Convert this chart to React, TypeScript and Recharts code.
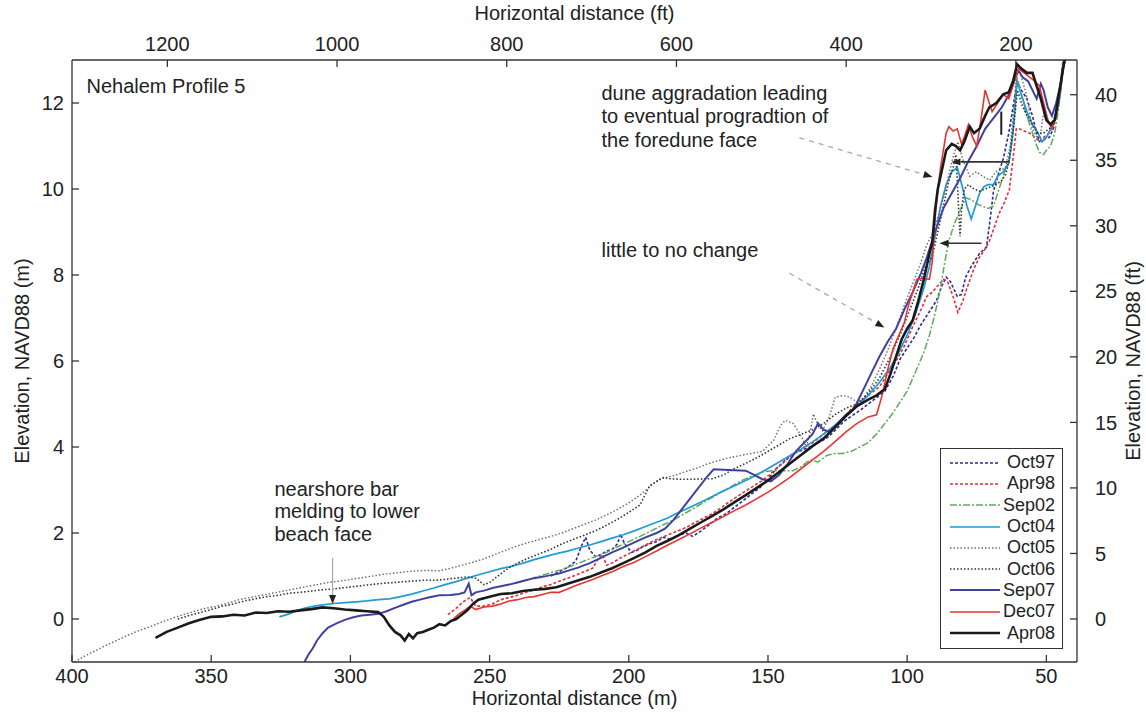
import React from "react";
import { LineChart, Line, XAxis, YAxis, Legend, ReferenceLine, ReferenceDot } from "recharts";

// profile surveys: [distance (m), elevation (m NAVD88)]
const oct97: [number, number][] = [
  [228, 1.0], [225, 1.1], [222, 1.2], [219, 1.35], [217, 1.7], [215.5, 1.9], [214, 1.6], [212, 1.45], [210, 1.5],
  [208, 1.58], [206, 1.62], [204, 1.75], [203, 1.98], [201.5, 1.75], [199, 1.55], [197, 1.6], [195, 1.68],
  [192.5, 1.75], [190, 1.8], [187.5, 1.9], [185, 1.85], [182, 1.95], [179.5, 2.0], [177, 1.92], [174, 2.05],
  [171, 2.2], [168, 2.35], [165, 2.45], [162, 2.6], [159, 2.75], [156, 2.9], [153, 3.05], [150, 3.25], [147, 3.5],
  [144, 3.68], [141, 3.85], [138, 3.92], [135, 4.0], [132, 4.1], [129, 4.2], [126, 4.38], [123, 4.58], [120, 4.72],
  [117, 4.85], [114, 5.0], [111, 5.15], [108, 5.3], [105, 5.65], [102.5, 6.05], [100, 6.3], [97.5, 6.55], [95, 6.85],
  [92, 7.15], [89.5, 7.4], [87.5, 7.75], [86, 7.95], [84.5, 7.85], [82, 7.5], [80.5, 7.55], [79, 7.95], [77, 8.2],
  [74, 8.5], [71.5, 8.65], [70, 9.4], [69, 9.95], [67, 10.4], [65.5, 10.7], [63.5, 11.3], [62, 11.9], [60.5, 12.5],
  [59, 12.3], [57, 12.1], [55, 11.7], [53.5, 11.3], [52.5, 11.1], [51, 11.15], [49, 11.2], [47.5, 11.4], [46, 11.9],
  [45, 12.4], [44, 13.0],
];
const apr98: [number, number][] = [
  [265, 0.1], [262, 0.25], [259.5, 0.4], [257, 0.5], [255, 0.3], [252, 0.3], [249, 0.35], [246, 0.45], [243, 0.5],
  [240, 0.55], [237, 0.62], [234, 0.68], [231, 0.75], [228, 0.8], [225, 0.88], [222, 0.95], [219, 1.02], [216, 1.1],
  [213, 1.18], [211, 1.4], [209.5, 1.5], [208, 1.25], [206, 1.3], [203, 1.42], [200, 1.52], [197, 1.62], [194, 1.72],
  [191, 1.82], [188, 1.9], [185, 1.98], [182, 2.06], [179, 2.14], [176, 2.25], [173, 2.35], [170, 2.45], [167, 2.58],
  [164, 2.72], [161, 2.85], [158, 2.98], [155, 3.1], [152, 3.22], [149, 3.38], [146, 3.55], [143, 3.72], [140, 3.88],
  [137, 4.0], [134, 4.1], [131, 4.25], [128, 4.4], [125, 4.55], [122, 4.75], [119, 4.95], [116, 5.1], [113, 5.25],
  [110, 5.4], [107, 5.7], [104, 6.0], [101, 6.35], [98, 6.8], [95, 7.2], [93, 7.5], [91, 7.6], [89, 7.75], [87, 7.9],
  [85.5, 7.85], [83.5, 7.5], [81.8, 7.13], [80, 7.4], [78.5, 7.7], [77.5, 7.88], [76, 8.15], [74, 8.42], [72, 8.6],
  [70.4, 8.8], [68.5, 9.15], [66.9, 9.44], [65, 9.7], [63.3, 9.98], [62, 10.7], [60.8, 11.4], [59.7, 11.4],
  [58, 11.35], [56, 11.3], [54, 11.2], [52.5, 11.1], [51, 11.2], [49, 11.3], [47.5, 11.5], [46, 11.9], [45, 12.4],
  [44, 12.9], [43.6, 13.0],
];
const sep02: [number, number][] = [
  [240, 0.85], [236, 0.92], [232, 1.0], [228, 1.08], [224, 1.15], [220, 1.25], [216, 1.35], [212, 1.45], [208, 1.55],
  [204, 1.68], [200, 1.8], [196, 1.92], [192, 2.05], [188, 2.18], [184, 2.3], [180, 2.45], [176, 2.6], [172, 2.75],
  [168, 2.9], [164, 3.05], [160, 3.2], [156, 3.32], [152, 3.42], [148, 3.45], [144, 3.45], [141, 3.45], [138, 3.55],
  [135, 3.7], [132, 3.65], [129, 3.8], [126, 3.85], [123, 3.85], [120, 3.9], [117, 4.0], [114, 4.1], [111, 4.3],
  [108, 4.55], [105, 4.8], [102, 5.1], [100, 5.3], [98, 5.6], [96, 5.9], [94, 6.2], [92, 6.6], [90, 7.1], [88, 7.7],
  [86.5, 8.3], [85, 8.8], [83, 9.2], [81, 9.5], [79, 9.8], [77, 9.75], [75, 9.65], [73, 9.6], [71, 9.55], [69, 9.6],
  [67, 10.0], [65, 10.4], [63.5, 10.6], [62, 11.4], [60.5, 12.6], [59, 12.2], [57.5, 11.8], [56, 11.5], [54, 11.1],
  [52.5, 10.85], [51, 10.8], [50, 10.9], [48.5, 11.0], [47, 11.3], [46, 11.7], [45, 12.2], [44, 12.8], [43.5, 13.0],
];
const oct04: [number, number][] = [
  [325.5, 0.05], [322, 0.12], [319, 0.2], [316, 0.26], [313, 0.3], [310, 0.33], [306, 0.36], [302, 0.38], [298, 0.4],
  [294, 0.42], [290, 0.45], [286, 0.47], [282, 0.52], [278, 0.58], [274, 0.65], [270, 0.72], [266, 0.8], [262, 0.87],
  [258, 0.95], [254, 1.03], [250, 1.1], [246, 1.17], [242, 1.23], [238, 1.3], [234, 1.38], [230, 1.45], [226, 1.52],
  [222, 1.58], [218, 1.65], [214, 1.72], [210, 1.8], [206, 1.88], [202, 1.96], [198, 2.05], [194, 2.15], [190, 2.25],
  [186, 2.35], [182, 2.48], [178, 2.6], [174, 2.72], [170, 2.85], [166, 2.98], [162, 3.1], [158, 3.22], [154, 3.35],
  [150, 3.5], [146, 3.65], [142, 3.8], [138, 3.95], [134, 4.12], [130, 4.3], [126, 4.5], [122, 4.72], [118, 4.95],
  [114, 5.2], [110, 5.5], [106, 5.85], [103, 6.2], [100, 6.6], [97, 7.1], [94, 7.7], [92, 8.2], [90, 8.9], [88, 9.6],
  [86, 10.1], [84, 10.4], [82, 10.5], [80, 10.0], [78.5, 9.6], [77, 9.3], [75.5, 9.6], [74, 9.9], [72.5, 10.05],
  [71, 10.1], [69, 10.1], [67.5, 10.3], [65.5, 10.4], [63.5, 10.6], [62, 11.3], [60.5, 12.5], [59, 12.2], [57, 11.8],
  [55, 11.5], [53, 11.3], [51.5, 11.1], [50, 11.2], [48.5, 11.4], [47, 11.6], [45.5, 12.0], [44.5, 12.5], [43.8, 13.0],
];
const oct05: [number, number][] = [
  [399, -1.0], [396, -0.88], [392, -0.75], [388, -0.62], [384, -0.5], [380, -0.38], [376, -0.27], [372, -0.18],
  [368, -0.08], [364, 0.02], [360, 0.1], [356, 0.18], [352, 0.25], [348, 0.3], [344, 0.37], [340, 0.45], [336, 0.5],
  [332, 0.55], [328, 0.6], [324, 0.65], [320, 0.7], [316, 0.75], [312, 0.8], [308, 0.85], [304, 0.88], [300, 0.92],
  [296, 0.96], [292, 1.0], [288, 1.04], [284, 1.07], [280, 1.1], [276, 1.12], [272, 1.13], [268, 1.12], [264, 1.18],
  [260, 1.25], [256, 1.32], [252, 1.4], [248, 1.5], [244, 1.6], [240, 1.7], [236, 1.78], [232, 1.85], [228, 1.92],
  [224, 2.0], [220, 2.1], [216, 2.2], [212, 2.3], [208, 2.42], [204, 2.55], [200, 2.7], [196, 2.88], [192, 3.1],
  [189, 3.25], [186, 3.3], [183, 3.35], [180, 3.42], [176, 3.5], [172, 3.6], [168, 3.68], [164, 3.75], [160, 3.8],
  [156, 3.85], [152, 3.9], [148, 4.15], [145.5, 4.5], [143.8, 4.62], [141, 4.55], [138, 4.25], [136.2, 4.0],
  [135, 4.3], [133.7, 4.77], [132, 4.5], [130.4, 4.38], [128, 4.7], [125.8, 5.16], [123, 5.2], [120.8, 5.16],
  [118, 5.05], [116, 5.1], [113, 5.4], [110, 5.8], [107, 6.25], [104, 6.75], [101, 7.3], [98, 7.8], [95, 8.3],
  [93, 8.7], [91, 8.95], [89, 9.35], [87.3, 9.74], [85.5, 10.2], [83.7, 10.7], [81.8, 11.1], [80.1, 10.7],
  [77.6, 10.3], [75.1, 10.4], [73, 10.3], [70.4, 10.2], [68.2, 10.4], [66, 10.45], [64.7, 10.5], [63, 11.0],
  [61.5, 12.0], [60.4, 12.9], [58.5, 12.5], [57.2, 12.2], [55, 11.4], [52.5, 11.1], [50.7, 11.9], [48.9, 11.5],
  [47.5, 11.6], [46, 11.9], [45, 12.4], [44, 12.9], [43.6, 13.0],
];
const oct06: [number, number][] = [
  [362, 0.0], [358, 0.08], [354, 0.15], [350, 0.22], [346, 0.3], [342, 0.35], [338, 0.42], [334, 0.47], [330, 0.52],
  [326, 0.55], [322, 0.6], [318, 0.62], [314, 0.65], [310, 0.68], [306, 0.7], [302, 0.73], [298, 0.76], [294, 0.79],
  [290, 0.82], [286, 0.84], [282, 0.86], [278, 0.88], [274, 0.9], [270, 0.9], [266, 0.92], [262, 0.95], [258, 0.98],
  [255, 0.95], [252, 0.8], [250, 0.85], [247, 1.0], [244, 1.15], [240, 1.3], [236, 1.42], [232, 1.52], [228, 1.62],
  [224, 1.75], [220, 1.85], [216, 1.95], [212, 2.05], [208, 2.18], [204, 2.32], [200, 2.48], [196, 2.65],
  [192.5, 3.1], [190, 3.2], [187.5, 3.29], [185, 3.26], [181, 3.25], [177, 3.25], [173, 3.26], [170, 3.26],
  [166, 3.35], [162, 3.5], [158, 3.62], [154, 3.75], [150, 3.9], [146, 4.05], [142, 4.2], [138, 4.3], [134, 4.4],
  [130, 4.55], [126, 4.75], [122, 4.9], [118, 5.0], [114, 5.25], [110, 5.6], [106, 6.1], [102, 6.7], [99, 7.2],
  [96, 7.7], [93.5, 8.2], [91, 8.42], [89, 9.0], [87, 9.6], [85, 10.2], [83.5, 10.5], [82.5, 10.8], [82, 10.2],
  [81.5, 9.5], [81, 8.9], [80.5, 9.5], [79.5, 10.0], [78, 10.1], [76, 10.0], [74, 9.95], [72, 10.0], [70, 10.05],
  [68, 10.1], [66, 10.2], [64.5, 10.35], [63, 10.8], [61.5, 11.6], [60.4, 12.3], [59, 12.0], [57, 11.7], [55, 11.5],
  [53, 11.3], [51, 11.3], [49, 11.4], [47.5, 11.5], [46, 11.8], [45, 12.3], [44, 12.8], [43.5, 13.0],
];
const sep07: [number, number][] = [
  [316.5, -1.0], [315, -0.82], [313.5, -0.68], [312, -0.5], [310, -0.33], [308, -0.2], [305, -0.1], [302, -0.02],
  [299, 0.04], [296, 0.08], [293, 0.1], [290, 0.12], [287, 0.18], [284, 0.26], [281, 0.33], [278, 0.4], [275, 0.45],
  [272, 0.5], [268, 0.55], [264, 0.56], [261, 0.58], [259, 0.62], [257.5, 0.82], [256.5, 0.55], [255, 0.62],
  [252, 0.66], [249, 0.72], [246, 0.76], [243, 0.8], [240, 0.85], [237, 0.9], [234, 0.95], [231, 0.98], [228, 1.02],
  [225, 1.06], [222, 1.12], [218, 1.2], [214, 1.3], [210, 1.42], [206, 1.55], [202, 1.66], [198, 1.78], [194, 1.9],
  [190, 2.0], [187, 2.1], [184, 2.3], [181, 2.55], [178, 2.8], [175, 3.05], [172, 3.3], [169.5, 3.48], [166, 3.47],
  [162, 3.46], [158, 3.45], [155, 3.35], [152, 3.25], [149, 3.2], [146, 3.35], [143, 3.6], [140, 3.9], [137, 4.1],
  [134, 4.3], [132, 4.55], [130, 4.4], [128, 4.35], [125, 4.55], [122, 4.75], [119, 4.9], [116, 5.3], [113, 5.7],
  [110, 6.1], [107, 6.45], [104, 6.75], [101, 7.2], [98, 7.6], [95, 8.05], [93, 8.4], [90, 9.0], [87, 9.55],
  [84, 9.9], [81, 10.25], [78, 10.65], [75, 11.0], [72, 11.4], [69, 11.65], [66, 11.9], [63, 12.25], [61, 12.6],
  [60, 12.75], [58.5, 12.6], [56.5, 12.5], [55, 12.3], [53.5, 12.1], [52, 12.45], [51, 12.3], [49.5, 11.9],
  [48, 11.7], [46.5, 12.0], [45, 12.4], [44, 12.8], [43.2, 13.0],
];
const dec07: [number, number][] = [
  [263, 0.0], [261, 0.12], [259, 0.2], [257, 0.3], [255, 0.22], [252, 0.28], [249, 0.3], [246, 0.35], [243, 0.42],
  [240, 0.45], [237, 0.5], [234, 0.52], [231, 0.57], [228, 0.62], [225, 0.62], [222, 0.7], [219, 0.78], [216, 0.85],
  [213, 0.92], [210, 1.0], [206, 1.1], [202, 1.22], [198, 1.32], [194, 1.45], [190, 1.58], [186, 1.72], [182, 1.85],
  [178, 1.98], [174, 2.12], [170, 2.25], [166, 2.38], [162, 2.52], [158, 2.65], [154, 2.8], [150, 2.95], [146, 3.12],
  [142, 3.3], [138, 3.5], [134, 3.7], [130, 3.9], [126, 4.12], [122, 4.35], [118, 4.55], [114, 4.7], [111, 4.75],
  [109, 5.2], [107, 5.8], [105, 6.3], [103, 6.6], [101, 6.9], [99.5, 7.3], [98, 7.6], [96.5, 7.9], [94, 7.92],
  [92, 7.9], [91, 8.3], [90, 9.3], [89, 10.0], [88, 10.5], [87, 10.9], [86, 11.3], [85, 11.45], [83.5, 11.35],
  [82, 11.4], [80.5, 11.05], [79.5, 11.2], [78, 11.5], [76.5, 11.2], [75, 11.0], [73.5, 11.6], [72, 12.3],
  [71, 12.1], [69.5, 11.8], [67.5, 12.0], [65.5, 12.2], [63.5, 12.1], [62, 12.4], [60, 12.8], [58, 12.7], [56, 12.6],
  [54, 12.5], [52.5, 12.4], [51, 12.0], [49.5, 11.6], [48, 11.4], [46.5, 11.7], [45, 12.3], [44, 12.8], [43.3, 13.0],
];
const apr08: [number, number][] = [
  [370, -0.44], [366, -0.3], [362, -0.2], [358, -0.1], [354, -0.02], [350, 0.05], [346, 0.06], [342, 0.1],
  [338, 0.08], [334, 0.15], [330, 0.14], [326, 0.18], [322, 0.17], [318, 0.2], [314, 0.23], [310, 0.27], [306, 0.25],
  [302, 0.22], [298, 0.2], [294, 0.18], [290, 0.16], [288, 0.05], [286, -0.15], [284, -0.3], [282, -0.38],
  [280.5, -0.5], [279, -0.35], [277.5, -0.45], [276, -0.33], [274, -0.3], [272, -0.25], [270, -0.2], [268, -0.12],
  [266, -0.15], [264, -0.05], [262, 0.0], [260, 0.1], [258, 0.2], [256, 0.35], [254, 0.45], [250, 0.52], [246, 0.58],
  [242, 0.6], [238, 0.65], [234, 0.68], [230, 0.7], [226, 0.74], [222, 0.82], [218, 0.9], [214, 0.98], [210, 1.08],
  [206, 1.18], [202, 1.3], [198, 1.42], [194, 1.55], [190, 1.7], [186, 1.82], [182, 1.95], [178, 2.1], [174, 2.25],
  [170, 2.4], [166, 2.55], [162, 2.72], [158, 2.88], [154, 3.05], [150, 3.22], [146, 3.42], [142, 3.62], [138, 3.82],
  [134, 4.02], [130, 4.2], [126, 4.45], [122, 4.72], [118, 4.95], [114, 5.1], [111, 5.2], [108, 5.35], [106, 5.7],
  [104, 6.1], [102, 6.5], [100, 6.75], [98, 6.95], [96, 7.4], [94, 7.9], [92, 8.5], [91, 8.75], [90, 9.5], [89, 10.0],
  [88, 10.3], [87, 10.6], [86, 10.9], [84, 11.05], [82.5, 11.0], [81, 10.9], [79.5, 11.1], [77.5, 11.45], [76, 11.3],
  [74, 11.4], [72, 11.7], [70.5, 11.9], [68, 12.0], [65.5, 12.2], [63.5, 12.25], [62, 12.5], [60.5, 12.9], [59, 12.8],
  [57, 12.7], [55, 12.7], [53.5, 12.4], [52, 12.1], [50, 11.6], [48.5, 11.5], [47, 11.6], [45.5, 12.2], [44.5, 12.6],
  [43.5, 13.0],
];

const xTicksM = [50, 100, 150, 200, 250, 300, 350, 400];
const xTicksFt = [200, 400, 600, 800, 1000, 1200];
const yTicksM = [0, 2, 4, 6, 8, 10, 12];
const yTicksFt = [0, 5, 10, 15, 20, 25, 30, 35, 40];

const M_TO_FT = 3.28084;
const X_MIN = 39;
const X_MAX = 400;
const Y_MIN = -1;
const Y_MAX = 13;

const FONT = "'Liberation Sans', Arial, Helvetica, sans-serif";
const INK = "#222";

const SERIES = [
  { name: "Oct97", pts: oct97, color: "#2b2b98", width: 1.6, dash: "3 2" },
  { name: "Apr98", pts: apr98, color: "#e2303c", width: 1.6, dash: "3 2" },
  { name: "Sep02", pts: sep02, color: "#5cab5c", width: 1.5, dash: "7 2 2 2" },
  { name: "Oct04", pts: oct04, color: "#1e9bd8", width: 1.7, dash: undefined },
  { name: "Oct05", pts: oct05, color: "#6a6a6a", width: 1.4, dash: "1.5 2" },
  { name: "Oct06", pts: oct06, color: "#333", width: 1.6, dash: "1.5 2" },
  { name: "Sep07", pts: sep07, color: "#4040a2", width: 2, dash: undefined },
  { name: "Dec07", pts: dec07, color: "#e8342e", width: 1.6, dash: undefined },
  { name: "Apr08", pts: apr08, color: "#1a1a1a", width: 2.6, dash: undefined },
];

// corners of the plot in feet, only so the secondary axes get a domain
const ftFrame = [
  { x: X_MIN * M_TO_FT, y: Y_MIN * M_TO_FT },
  { x: X_MAX * M_TO_FT, y: Y_MAX * M_TO_FT },
];

const tickStyle = { fontSize: 20, fill: INK, fontFamily: FONT };
const axisStroke = { stroke: "#333", strokeWidth: 1.3 };

function MultiLine({ viewBox, lines, gap = 23.5 }: any) {
  const x = viewBox?.x ?? 0;
  const y = viewBox?.y ?? 0;
  return (
    <text x={x} y={y} fontSize={20} fill={INK} fontFamily={FONT}>
      {lines.map((l: string, i: number) => (
        <tspan key={i} x={x} dy={i === 0 ? "0.36em" : gap}>
          {l}
        </tspan>
      ))}
    </text>
  );
}

// line with an optional arrow head at the (x2, y2) end
function arrowShape(color: string, dash: string | undefined, width: number, head: boolean) {
  return (p: any) => {
    const { x1, y1, x2, y2 } = p;
    const a = Math.atan2(y2 - y1, x2 - x1);
    const L = 9;
    const W = 3.5;
    const bx = x2 - L * Math.cos(a);
    const by = y2 - L * Math.sin(a);
    const pts = `${x2},${y2} ${bx + W * Math.sin(a)},${by - W * Math.cos(a)} ${bx - W * Math.sin(a)},${by + W * Math.cos(a)}`;
    return (
      <g>
        <line x1={x1} y1={y1} x2={head ? bx : x2} y2={head ? by : y2} stroke={color} strokeWidth={width} strokeDasharray={dash} />
        {head && <polygon points={pts} fill="#222" />}
      </g>
    );
  };
}

function LegendBox() {
  return (
    <div
      style={{
        border: "1.4px solid #333",
        background: "#fff",
        padding: "3px 7px 4px 9px",
        boxSizing: "border-box",
        width: 123,
        fontFamily: FONT,
        fontSize: 18,
        color: INK,
      }}
    >
      {SERIES.map((s) => (
        <div key={s.name} style={{ display: "flex", alignItems: "center", justifyContent: "space-between", height: 21.3 }}>
          <svg width={50} height={6}>
            <line x1={0} y1={3} x2={50} y2={3} stroke={s.color} strokeWidth={s.width} strokeDasharray={s.dash} />
          </svg>
          <span style={{ lineHeight: "21px" }}>{s.name}</span>
        </div>
      ))}
    </div>
  );
}

export default function App() {
  return (
    <div style={{ position: "absolute", left: 0, top: 0, width: 1146, height: 714, background: "#fff" }}>
      <LineChart width={1146} height={714} margin={{ top: 0, right: 0, bottom: 0, left: 0 }}>
        <XAxis
          dataKey="x"
          type="number"
          domain={[X_MIN, X_MAX]}
          allowDataOverflow
          reversed
          ticks={xTicksM}
          height={52}
          tick={tickStyle}
          tickSize={-7}
          tickMargin={14}
          axisLine={axisStroke}
          tickLine={axisStroke}
          label={{ value: "Horizontal distance (m)", position: "insideBottom", offset: 9, style: { fontSize: 20, fill: INK, fontFamily: FONT } }}
        />
        <XAxis
          xAxisId="ft"
          dataKey="x"
          orientation="top"
          type="number"
          domain={[X_MIN * M_TO_FT, X_MAX * M_TO_FT]}
          allowDataOverflow
          reversed
          ticks={xTicksFt}
          height={60}
          tick={tickStyle}
          tickSize={-7}
          tickMargin={16}
          axisLine={axisStroke}
          tickLine={axisStroke}
          label={{ value: "Horizontal distance (ft)", position: "insideTop", offset: 6, style: { fontSize: 20, fill: INK, fontFamily: FONT } }}
        />
        <YAxis
          type="number"
          domain={[Y_MIN, Y_MAX]}
          allowDataOverflow
          ticks={yTicksM}
          width={72}
          tick={tickStyle}
          tickSize={-7}
          tickMargin={15}
          axisLine={axisStroke}
          tickLine={axisStroke}
          label={{ value: "Elevation, NAVD88 (m)", angle: -90, position: "insideLeft", offset: 22, style: { fontSize: 20, fill: INK, fontFamily: FONT, textAnchor: "middle" } }}
        />
        <YAxis
          yAxisId="ft"
          orientation="right"
          type="number"
          domain={[Y_MIN * M_TO_FT, Y_MAX * M_TO_FT]}
          allowDataOverflow
          ticks={yTicksFt}
          width={69}
          tick={tickStyle}
          tickSize={-7}
          tickMargin={25}
          axisLine={axisStroke}
          tickLine={axisStroke}
          label={{ value: "Elevation, NAVD88 (ft)", angle: -90, position: "insideRight", offset: 13, style: { fontSize: 20, fill: INK, fontFamily: FONT, textAnchor: "middle" } }}
        />

        {/* invisible series bound to the ft axes */}
        <Line
          xAxisId="ft"
          yAxisId="ft"
          data={ftFrame}
          dataKey="y"
          stroke="none"
          dot={false}
          activeDot={false}
          legendType="none"
          isAnimationActive={false}
        />

        {SERIES.map((s) => (
          <Line
            key={s.name}
            name={s.name}
            data={s.pts.map(([x, y]) => ({ x, y }))}
            dataKey="y"
            type="linear"
            stroke={s.color}
            strokeWidth={s.width}
            strokeDasharray={s.dash}
            dot={false}
            activeDot={false}
            isAnimationActive={false}
          />
        ))}

        {/* annotation arrows */}
        <ReferenceLine segment={[{ x: 138.7, y: 11.19 }, { x: 90.9, y: 10.28 }]} shape={arrowShape("#a8a8a8", "5 5", 1.3, true)} />
        <ReferenceLine segment={[{ x: 142.3, y: 8.04 }, { x: 108.2, y: 6.78 }]} shape={arrowShape("#a8a8a8", "5 5", 1.3, true)} />
        <ReferenceLine segment={[{ x: 306.4, y: 1.42 }, { x: 306.4, y: 0.35 }]} shape={arrowShape("#a8a8a8", undefined, 1.2, true)} />
        <ReferenceLine segment={[{ x: 63.3, y: 10.63 }, { x: 84.1, y: 10.63 }]} shape={arrowShape("#333", undefined, 1.6, true)} />
        <ReferenceLine segment={[{ x: 73.3, y: 8.74 }, { x: 88.4, y: 8.74 }]} shape={arrowShape("#333", undefined, 1.6, true)} />
        <ReferenceLine segment={[{ x: 66.2, y: 11.8 }, { x: 66.2, y: 11.26 }]} shape={arrowShape("#222", undefined, 2, false)} />

        {/* annotation text */}
        <ReferenceDot x={394.8} y={12.4} r={0} stroke="none" label={<MultiLine lines={["Nehalem Profile 5"]} />} />
        <ReferenceDot
          x={209.8}
          y={12.24}
          r={0}
          stroke="none"
          label={<MultiLine lines={["dune aggradation leading", "to eventual progradtion of", "the foredune face"]} />}
        />
        <ReferenceDot x={209.8} y={8.58} r={0} stroke="none" label={<MultiLine lines={["little to no change"]} />} />
        <ReferenceDot
          x={327.3}
          y={3.03}
          r={0}
          stroke="none"
          label={<MultiLine lines={["nearshore bar", "melding to lower", "beach face"]} gap={22.5} />}
        />

        <Legend
          layout="horizontal"
          verticalAlign="middle"
          align="center"
          content={() => <LegendBox />}
          wrapperStyle={{ left: 940, top: 448, width: 123 }}
        />
      </LineChart>
    </div>
  );
}
